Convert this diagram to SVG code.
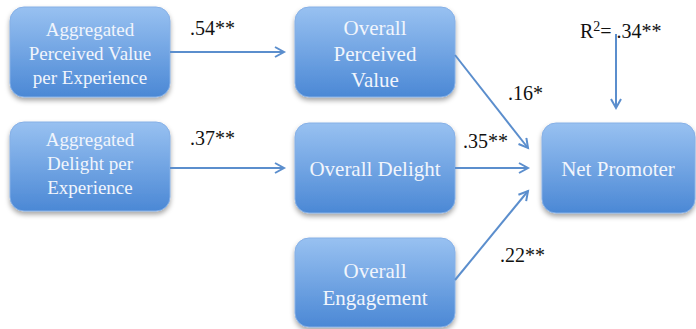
<svg xmlns="http://www.w3.org/2000/svg" width="696" height="329" viewBox="0 0 696 329">
<style>
.box{fill:url(#g);stroke:#86b0e6;stroke-width:1;filter:url(#sh)}
.t{font-family:"Liberation Serif","Times New Roman",serif;fill:#f1f5fc;text-anchor:middle}
.s{font-size:19px}
.m{font-size:21px}
.lab{font-family:"Liberation Serif","Times New Roman",serif;font-size:20px;fill:#111}
.c{stroke:#5b8ecd;stroke-width:2;fill:none;marker-end:url(#ah)}
</style>
<defs>
<linearGradient id="g" x1="0" y1="0" x2="0" y2="1">
<stop offset="0" stop-color="#98c1f1"/>
<stop offset="1" stop-color="#4b88d5"/>
</linearGradient>
<filter id="sh" x="-10%" y="-10%" width="120%" height="130%">
<feDropShadow dx="0" dy="3" stdDeviation="2.5" flood-color="#000" flood-opacity="0.35"/>
</filter>
<marker id="ah" markerUnits="userSpaceOnUse" markerWidth="14" markerHeight="14" refX="11" refY="6" orient="auto">
<path d="M2,1 L11,6 L2,11" fill="none" stroke="#5b8ecd" stroke-width="2"/>
</marker>
</defs>
<g id="n1"><rect class="box" x="10" y="7" width="160" height="90" rx="14"/>
<text class="t s" x="90" y="36">Aggregated</text><text class="t s" x="90" y="60">Perceived Value</text><text class="t s" x="90" y="84">per Experience</text></g>
<g id="n2"><rect class="box" x="10" y="122" width="160" height="89" rx="14"/>
<text class="t s" x="90" y="146">Aggregated</text><text class="t s" x="90" y="170">Delight per</text><text class="t s" x="90" y="194">Experience</text></g>
<g id="n3"><rect class="box" x="295" y="7" width="160" height="90" rx="14"/>
<text class="t m" x="375" y="35">Overall</text><text class="t m" x="375" y="61">Perceived</text><text class="t m" x="375" y="87">Value</text></g>
<g id="n4"><rect class="box" x="295" y="123" width="160" height="90" rx="14"/>
<text class="t m" x="375" y="176">Overall Delight</text></g>
<g id="n5"><rect class="box" x="295" y="238" width="160" height="89" rx="14"/>
<text class="t m" x="375" y="278">Overall</text><text class="t m" x="375" y="305">Engagement</text></g>
<g id="n6"><rect class="box" x="542" y="123" width="153" height="90" rx="14"/>
<text class="t m" x="618" y="176">Net Promoter</text></g>
<g id="connectors">
<line class="c" x1="170" y1="52" x2="284" y2="52"/>
<line class="c" x1="170" y1="168" x2="284" y2="168"/>
<line class="c" x1="455" y1="55" x2="528" y2="148"/>
<line class="c" x1="455" y1="168" x2="528" y2="168"/>
<line class="c" x1="455" y1="280" x2="528" y2="191"/>
<line class="c" x1="616" y1="34" x2="616" y2="108"/>
</g>
<g id="labels">
<text class="lab" x="580" y="38">R<tspan font-size="14" dy="-7">2</tspan><tspan dy="7">= .34**</tspan></text>
<text class="lab" x="190" y="35">.54**</text>
<text class="lab" x="190" y="145">.37**</text>
<text class="lab" x="508" y="100">.16*</text>
<text class="lab" x="463" y="148">.35**</text>
<text class="lab" x="500" y="262">.22**</text>
</g>
</svg>
